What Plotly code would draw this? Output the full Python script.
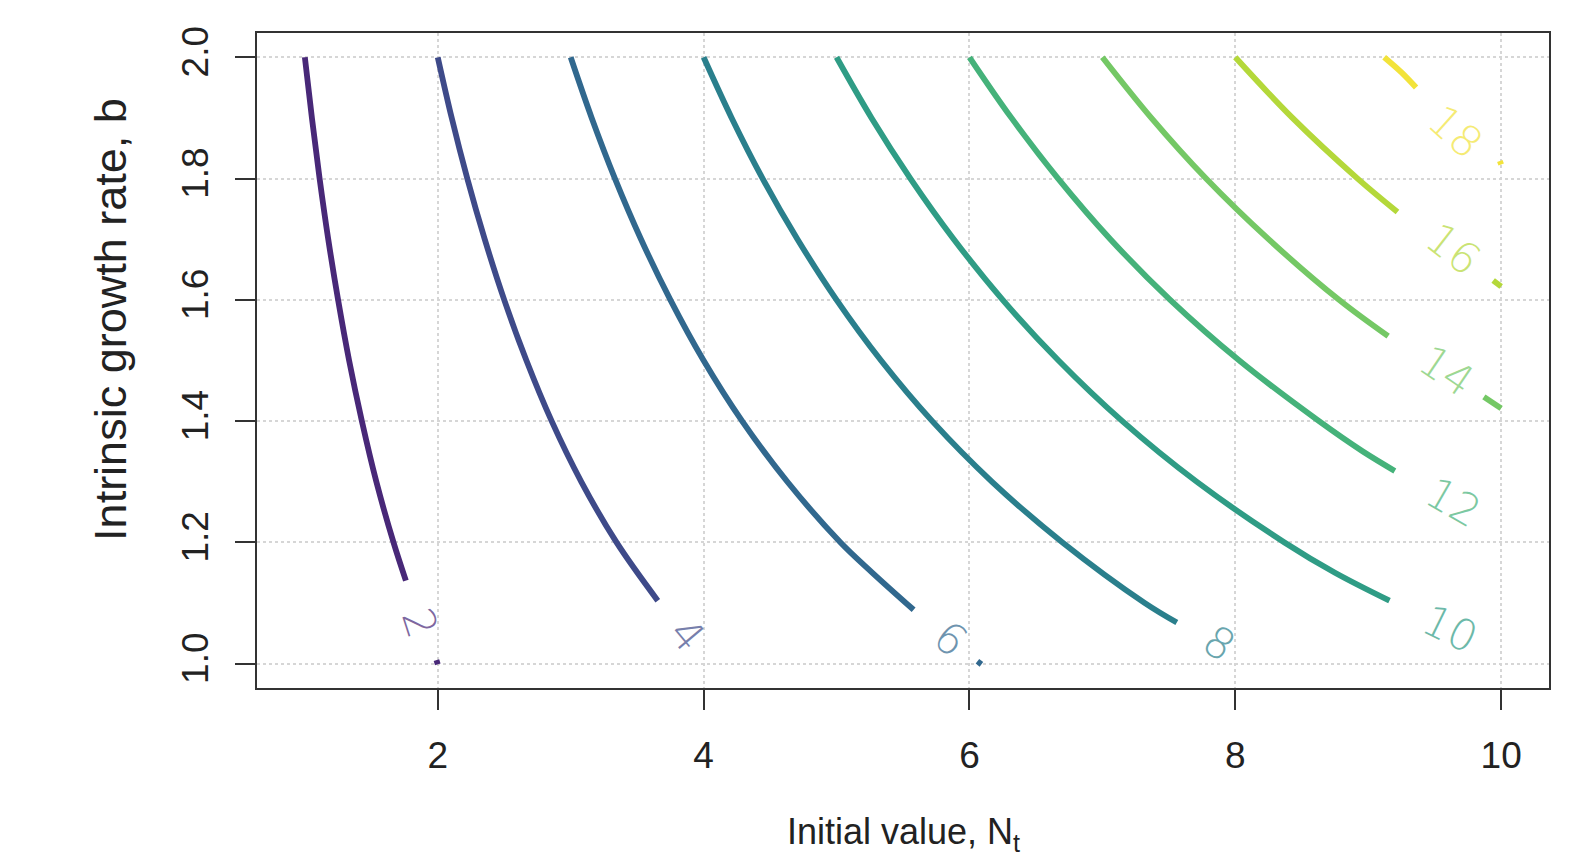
import plotly.graph_objects as go

# Contour levels of N_{t+1} as a function of N_t and b
levels = [2, 4, 6, 8, 10, 12, 14, 16, 18]
colors = ["#482878", "#3E4A89", "#31688E", "#2A7F8C", "#2F9C85",
          "#45B27A", "#74C865", "#B4D83A", "#F2E33A"]

# main contour pieces: N_t values and matching b values
line_N = {
    2: [1.000, 1.053, 1.111, 1.176, 1.250, 1.333, 1.429, 1.538, 1.667, 1.760],
    4: [2.000, 2.105, 2.222, 2.353, 2.500, 2.667, 2.857, 3.080, 3.345, 3.655],
    6: [3.000, 3.158, 3.333, 3.529, 3.750, 4.000, 4.290, 4.630, 5.030, 5.270, 5.580],
    8: [4.000, 4.211, 4.444, 4.706, 5.000, 5.335, 5.720, 6.170, 6.700, 7.320, 7.560],
    10: [5.000, 5.263, 5.556, 5.882, 6.250, 6.670, 7.150, 7.710, 8.370, 8.750, 9.160],
    12: [6.000, 6.316, 6.667, 7.060, 7.510, 8.030, 8.630, 8.960, 9.200],
    14: [7.000, 7.368, 7.780, 8.250, 8.780, 9.150],
    16: [8.000, 8.430, 8.920, 9.220],
    18: [9.120, 9.250, 9.360],
}
line_b = {
    2: [2.0, 1.9, 1.8, 1.7, 1.6, 1.5, 1.4, 1.3, 1.2, 1.137],
    4: [2.0, 1.9, 1.8, 1.7, 1.6, 1.5, 1.4, 1.3, 1.2, 1.104],
    6: [2.0, 1.9, 1.8, 1.7, 1.6, 1.5, 1.4, 1.3, 1.2, 1.15, 1.089],
    8: [2.0, 1.9, 1.8, 1.7, 1.6, 1.5, 1.4, 1.3, 1.2, 1.1, 1.068],
    10: [2.0, 1.9, 1.8, 1.7, 1.6, 1.5, 1.4, 1.3, 1.2, 1.15, 1.104],
    12: [2.0, 1.9, 1.8, 1.7, 1.6, 1.5, 1.4, 1.35, 1.318],
    14: [2.0, 1.9, 1.8, 1.7, 1.6, 1.54],
    16: [2.0, 1.9, 1.8, 1.745],
    18: [2.0, 1.975, 1.95],
}
# short pieces left after the labels
tail_N = {2: [1.99, 2.00], 6: [6.06, 6.09], 14: [9.87, 10.0], 16: [9.94, 10.0], 18: [9.99, 10.0]}
tail_b = {2: [1.006, 0.999], 6: [1.004, 0.999], 14: [1.440, 1.421], 16: [1.632, 1.622], 18: [1.829, 1.823]}

# contour labels: position and angle along the line
label_N = [1.87, 3.88, 5.86, 7.88, 9.62, 9.64, 9.59, 9.64, 9.66]
label_b = [1.068, 1.048, 1.041, 1.035, 1.058, 1.266, 1.482, 1.684, 1.877]
label_angle = [72, 50, 40, 34, 26, 30, 34, 38, 42]

x_ticks = [2, 4, 6, 8, 10]
y_ticks = [1.0, 1.2, 1.4, 1.6, 1.8, 2.0]

fig = go.Figure()
for lv, col in zip(levels, colors):
    fig.add_trace(go.Scatter(x=line_N[lv], y=line_b[lv], mode="lines",
                             line=dict(color=col, width=5.8, shape="spline", smoothing=1.0),
                             showlegend=False, hoverinfo="skip"))
    if lv in tail_N:
        fig.add_trace(go.Scatter(x=tail_N[lv], y=tail_b[lv], mode="lines",
                                 line=dict(color=col, width=5.8),
                                 showlegend=False, hoverinfo="skip"))

for lv, col, xn, yb, ang in zip(levels, colors, label_N, label_b, label_angle):
    fig.add_annotation(x=xn, y=yb, text=str(lv), showarrow=False, textangle=ang,
                       font=dict(family="DejaVu Sans", size=43, color=col, weight=200),
                       opacity=0.7, xanchor="center", yanchor="middle")

axis_common = dict(showline=True, linecolor="#333333", linewidth=1.5, mirror=True,
                   ticks="outside", ticklen=20, tickwidth=1.5, tickcolor="#333333",
                   showgrid=True, gridcolor="#d6d6d6", griddash="dot", gridwidth=1.5,
                   zeroline=False, automargin=False,
                   tickfont=dict(family="Liberation Sans", size=37, color="#222222"))

fig.update_layout(
    width=1568, height=852,
    margin=dict(l=249, r=27, t=25, b=172),
    paper_bgcolor="white", plot_bgcolor="white",
    xaxis=dict(range=[0.64, 10.36], tickvals=x_ticks, ticktext=[str(v) for v in x_ticks],
               ticklabelstandoff=14, **axis_common),
    yaxis=dict(range=[0.96, 2.04], tickvals=y_ticks, ticktext=[f"{v:.1f}" for v in y_ticks],
               tickangle=-90, ticklabelstandoff=12, **axis_common),
)

# axis titles
fig.add_annotation(xref="paper", yref="paper", x=0.5, y=-0.2229,
                   text="Initial value, N<sub>t</sub>", showarrow=False,
                   xanchor="center", yanchor="middle",
                   font=dict(family="Liberation Sans", size=36, color="#222222"))
fig.add_annotation(xref="paper", yref="paper", x=-0.113, y=0.562,
                   text="Intrinsic growth rate, b", showarrow=False, textangle=-90,
                   xanchor="center", yanchor="middle",
                   font=dict(family="Liberation Sans", size=45, color="#222222"))

fig.write_html("out.html")
